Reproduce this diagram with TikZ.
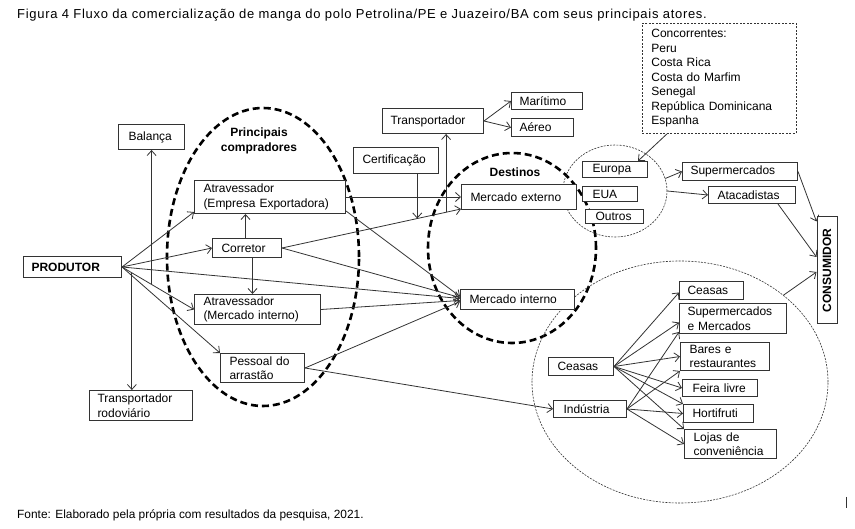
\documentclass[tikz,border=0pt]{standalone}
\usepackage{fontspec}
\setmainfont{Liberation Sans}
\newfontfamily\titlefont[LetterSpace=5.4]{Liberation Sans}
\usetikzlibrary{arrows.meta,shapes.geometric,calc}
\definecolor{ln}{HTML}{333333}
\tikzset{
  every node/.style={font=\fontsize{12}{14.5}\selectfont, text=black},
  box/.style={draw=ln, line width=1pt, fill=white, inner ysep=0pt, align=left},
  arr/.style={draw=ln, line width=0.8pt, -{Straight Barb[length=5pt,width=9pt]}},
  bigdash/.style={draw=black, line width=2.6pt, dash pattern=on 7pt off 4pt},
  smalldash/.style={draw=ln, line width=0.6pt, dash pattern=on 2pt off 1.2pt},
  hdr/.style={font=\fontsize{12}{14.5}\selectfont\bfseries, align=center, inner sep=0pt},
}
\newcommand\bx[7][9]{%
  \pgfmathsetmacro\bxw{#5-#3-2*#1}%
  \pgfmathsetmacro\bxh{#6-#4}%
  \node[box, inner xsep=#1pt, text width=\bxw pt, minimum height=\bxh pt, anchor=north west] (#2) at (#3,#4) {#7};}
\begin{document}
\begin{tikzpicture}[x=1pt,y=-1pt]
\useasboundingbox[fill=white] (0,0) rectangle (855,529);

% ellipses
\node[ellipse, bigdash, minimum width=192pt, minimum height=298pt, inner sep=0pt] (ecomp) at (263,257) {};
\node[ellipse, bigdash, minimum width=168pt, minimum height=190pt, inner sep=0pt] (edest) at (512,248) {};
\node[ellipse, smalldash, minimum width=104pt, minimum height=92pt, inner sep=0pt] (exc) at (615,191) {};
\node[ellipse, smalldash, minimum width=296pt, minimum height=242pt, inner sep=0pt] (dom) at (680,382) {};

% title and footer
\node[anchor=base west, inner sep=0pt, font=\fontsize{13}{15}\titlefont] (title) at (17,18.5) {Figura 4 Fluxo da comercialização de manga do polo Petrolina/PE e Juazeiro/BA com seus principais atores.};
\node[anchor=base west, inner sep=0pt, font=\fontsize{11.9}{13}\selectfont] (fonte) at (17,518.5) {Fonte: Elaborado pela própria com resultados da pesquisa, 2021.};

% headers
\node[hdr] (tpc) at (259,141) {Principais\\compradores};
\node[hdr] (tdest) at (515,172) {Destinos};

% concorrentes
\node[draw=ln, line width=0.8pt, dash pattern=on 2pt off 1.5pt, fill=white, anchor=north west, inner xsep=9pt, inner ysep=0pt,
      text width=136pt, minimum height=110pt, align=left] (conc) at (642,23)
  {Concorrentes:\\Peru\\Costa Rica\\Costa do Marfim\\Senegal\\República Dominicana\\Espanha};

% boxes
\bx[8]{prod}{23}{256}{121}{277}{\textbf{PRODUTOR}}
\bx[10]{bal}{118}{124}{184}{149}{Balança}
\bx[8]{trod}{89}{390}{192}{420}{Transportador\\rodoviário}
\bx{atex}{194}{180}{345}{213}{Atravessador\\(Empresa Exportadora)}
\bx{cor}{212}{238}{281}{257}{Corretor}
\bx{atin}{194}{294}{320}{324}{Atravessador\\(Mercado interno)}
\bx{pes}{220}{353}{304}{382}{Pessoal do\\arrastão}
\bx{cert}{353}{147}{438}{173}{Certificação}
\bx[8]{trans}{382}{108}{483}{133}{Transportador}
\bx[8]{mar}{511}{92}{582}{109}{Marítimo}
\bx[8]{aer}{511}{118}{573}{136}{Aéreo}
\bx{mext}{461}{184}{576}{209}{Mercado externo}
\bx{mint}{460}{289}{574}{309}{Mercado interno}
\bx[10]{eur}{582}{161}{647}{177}{Europa}
\bx[10]{eua}{582}{186}{637}{201}{EUA}
\bx[10]{out}{585}{209}{643}{223}{Outros}
\bx[8]{sup}{682}{162}{797}{180}{Supermercados}
\bx{ata}{708}{186}{795}{203}{Atacadistas}
\node[draw=ln, line width=1pt, fill=white, minimum width=20pt, minimum height=107pt, inner sep=0pt] (cons) at (827,270.5) {};
\node[rotate=90, font=\fontsize{12}{14.5}\selectfont\bfseries, inner sep=0pt] (tcons) at (cons.center) {CONSUMIDOR};
\bx{ceaL}{548}{357}{613}{375}{Ceasas}
\bx[10]{ind}{553}{400}{626}{417}{Indústria}
\bx[8]{ceaR}{679}{281}{743}{299}{Ceasas}
\bx[8]{smm}{679}{303}{786}{333}{Supermercados\\e Mercados}
\bx{bar}{680}{342}{769}{370}{Bares e\\restaurantes}
\bx[10]{fei}{682}{379}{757}{396}{Feira livre}
\bx{hor}{683}{404}{753}{422}{Hortifruti}
\bx{loj}{684}{429}{776}{458}{Lojas de\\conveniência}

% connectors from PRODUTOR
\draw[arr] (prod.east) -- ([yshift=2pt]atex.south west);
\draw[arr] (prod.east) -- (cor.west);
\draw[arr] (prod.east) -- ([yshift=1pt]mint.west);
\draw[arr] (prod.east) -- (atin.west);
\draw[arr] (prod.east) -- (pes.north west);
\coordinate (balfoot) at ($(prod.east)!0.411!(atin.west)$);
\draw[arr] (balfoot) -- (balfoot |- bal.south);
\coordinate (trfoot) at ($(prod.east)!0.137!(atin.west)$);
\draw[arr] (trfoot) -- (trfoot |- trod.north);

% compradores
\draw[arr] ([xshift=-1.5pt]cor.north) -- ([xshift=-1.5pt]cor.north |- atex.south);
\draw[arr] ([xshift=5.5pt]cor.south) -- ([xshift=5.5pt]cor.south |- atin.north);
\draw[arr] (cor.east) -- ([yshift=1pt]mext.south west);
\draw[arr] (cor.east) -- ([yshift=2pt]mint.west);
\draw[arr] (atex.east) -- (mext.west);
\draw[arr] ([yshift=3pt]atex.south east) -- ([yshift=3pt]mint.west);
\draw[arr] (atin.east) -- ([yshift=-1pt]mint.west);
\draw[arr] (pes.east) -- ([yshift=-2pt]mint.west);
\draw[arr] (pes.east) -- (ind.west);

% transport and certification
\coordinate (tfoot) at ($(cor.east)!0.9167!([yshift=1pt]mext.south west)$);
\draw[arr] (tfoot) -- (tfoot |- trans.south);
\coordinate (cfoot) at ($(cor.east)!0.7556!([yshift=1pt]mext.south west)$);
\draw[arr] (cfoot |- cert.south) -- (cfoot);
\draw[arr] (trans.east) -- (mar.west);
\draw[arr] (trans.east) -- (aer.west);

% export side
\draw[arr] ($(conc.south west)!0.162!(conc.south east)$) -- ([xshift=-10pt]eur.north east);
\draw[arr] (exc.14) -- (sup.west);
\draw[arr] (exc.0) -- (ata.west);
\draw[arr] (sup.east) -- ([yshift=-5pt]cons.north west);
\draw[arr] ([xshift=-18pt]ata.south east) -- ([yshift=13.5pt]cons.west);
\draw[arr] (dom.40) -- ([yshift=-1.5pt]cons.west);

% domestic side
\draw[arr] (ceaL.east) -- ([yshift=-2pt]ceaR.west);
\draw[arr] (ceaL.east) -- ([yshift=-4pt]smm.west);
\draw[arr] (ceaL.east) -- (bar.west);
\draw[arr] (ceaL.east) -- (fei.west);
\draw[arr] (ceaL.east) -- (hor.north west);
\draw[arr] (ceaL.east) -- (loj.north west);
\draw[arr] (ind.east) -- ([yshift=2pt]smm.south west);
\draw[arr] (ind.east) -- (bar.south west);
\draw[arr] (ind.east) -- (hor.west);
\draw[arr] (ind.east) -- (loj.west);

% stray mark
\draw[line width=1pt, ln] (846,497) -- (846,508);
\end{tikzpicture}
\end{document}
